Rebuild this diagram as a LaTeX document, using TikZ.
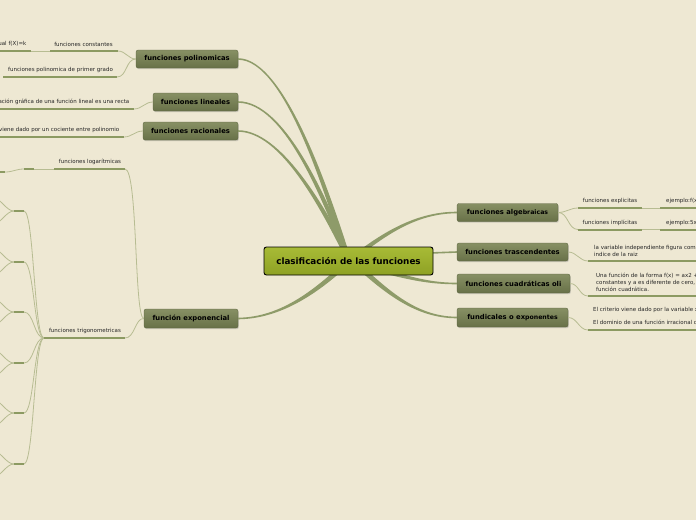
\documentclass[tikz,border=0pt]{standalone}
\usepackage{fontspec}
\setmainfont{DejaVu Sans}
\usetikzlibrary{calc,shadows}
\definecolor{bg}{HTML}{EEE8D3}
\definecolor{mlinecol}{HTML}{8E9B69}
\definecolor{ulcol}{HTML}{8C9A62}
\definecolor{tlcol}{HTML}{B7BC92}
\definecolor{ttop}{HTML}{879064}
\definecolor{tbot}{HTML}{687148}
\definecolor{ctop}{HTML}{A8BB36}
\definecolor{cbot}{HTML}{8EA124}
\definecolor{stxt}{HTML}{262626}
\tikzset{
 topic/.style={rounded corners=2pt, top color=ttop, bottom color=tbot, draw=tbot!85!black, line width=0.3pt,
   font=\fontsize{6.8}{7.5}\selectfont\bfseries, text=black, inner sep=0pt,
   drop shadow={shadow xshift=0.8pt,shadow yshift=-1.2pt,opacity=0.3}},
 central/.style={rounded corners=2.5pt, top color=ctop, bottom color=cbot, draw=black, line width=0.9pt,
   font=\fontsize{8.8}{9}\selectfont\bfseries, text=black, inner sep=0pt},
 stext/.style={font=\fontsize{5.5}{7}\selectfont, text=stxt, inner sep=0pt, align=left},
 uline/.style={draw=ulcol, line width=2pt},
 tline/.style={draw=tlcol, line width=0.8pt},
 mfill/.style={fill=mlinecol},
}
% tapered main connector: #1 node anchor, #2 #3 controls, #4 hub, (#5,#6) half width at hub
\newcommand\mlink[6]{%
 \fill[mfill] ($(#1)+(0,-0.8)$) .. controls ($(#2)+(0,-0.8)$) and ($(#3)+(#5,#6)$) .. ($(#4)+(#5,#6)$)
   -- ($(#4)-(#5,#6)$) .. controls ($(#3)-(#5,#6)$) and ($(#2)+(0,0.8)$) .. ($(#1)+(0,0.8)$) -- cycle;}
\begin{document}
\begin{tikzpicture}[x=1pt,y=-1pt]
\useasboundingbox (0,0) rectangle (696,520);
\fill[bg] (0,0) rectangle (696,520);
\clip (0,0) rectangle (696,520);

% ---------- hubs ----------
\coordinate (hubA) at (348,258);
\coordinate (hubB) at (348,262);
\coordinate (hubC) at (360,265);
\coordinate (hubD) at (355,263);

% ---------- topic nodes ----------
\path node[topic, minimum width=102pt, minimum height=18pt] (poly) at (187,59) {funciones polinomicas};
\path node[topic, minimum width=85pt, minimum height=18pt] (lin) at (195.5,102) {funciones lineales};
\path node[topic, minimum width=95pt, minimum height=18pt] (rac) at (190.5,131) {funciones racionales};
\path node[topic, minimum width=94pt, minimum height=19pt] (expo) at (191,318.5) {función exponencial};
\path node[topic, minimum width=101pt, minimum height=18pt] (alg) at (507.5,212.5) {funciones alge{\fontsize{6.2}{7}\selectfont\raisebox{-0.4pt}{braicas}}};
\path node[topic, minimum width=111pt, minimum height=18pt] (tras) at (512.5,252) {funciones trascendentes};
\path node[topic, minimum width=113pt, minimum height=19pt] (cuad) at (513.5,283.5) {funciones cuadráticas oli};
\path node[topic, minimum width=111pt, minimum height=19pt] (rad) at (512.5,317.5) {fundicales o ex{\fontsize{6.2}{7}\selectfont\raisebox{-0.4pt}{ponentes}}};

% ---------- main connectors ----------
\mlink{poly.east}{285,59}{328,195}{hubA}{2.4}{-0.7}
\mlink{lin.east}{285,102}{325,200}{hubA}{2.4}{-0.7}
\mlink{rac.east}{280,131}{322,205}{hubA}{2.4}{-0.7}
\mlink{expo.east}{282,318}{318,290}{hubB}{-1.8}{-1.8}
\mlink{alg.west}{415,212.5}{382,235}{hubB}{-1.6}{-1.6}
\mlink{cuad.west}{420,283.5}{398,274}{hubC}{0.9}{-2.3}
\mlink{rad.west}{415,317.5}{385,290}{hubD}{1.6}{-1.9}
\draw[draw=mlinecol, line width=1.6pt] (hubB) -- (430,253) -- (tras.west);

% ---------- central node ----------
\node[central, minimum width=169pt, minimum height=28pt] (cent) at (348.5,261) {clasificación de las funciones};

% ---------- left side: polinomicas ----------
\coordinate (constL) at (50,51);  \coordinate (constR) at (118,51);
\coordinate (kL) at (-2,51);      \coordinate (kR) at (31,51);
\coordinate (primL) at (3,77);    \coordinate (primR) at (117,77);
\node[stext] (constT) at (83.5,44) {funciones constantes};
\node[stext, anchor=east] (kT) at (26.5,44) {función constante es igual f(X)=k};
\node[stext] (primT) at (60.5,69.5) {funciones polinomica de primer grado};
\draw[tline] (poly.west) to[out=180,in=0] (constR);
\draw[tline] (poly.west) to[out=180,in=0] (primR);
\draw[tline] (constL) -- (kR);
\draw[uline] (constL) -- (constR);
\draw[uline] (kL) -- (kR);
\draw[uline] (primL) -- (primR);

% lineales
\coordinate (linCL) at (-2,109); \coordinate (linCR) at (134,109);
\node[stext, anchor=east] (linT) at (129.5,101.5) {La representación gráfica de una función lineal es una recta};
\draw[tline] (lin.west) to[out=180,in=0] (linCR);
\draw[uline] (linCL) -- (linCR);

% racionales
\coordinate (racCL) at (-2,137); \coordinate (racCR) at (124,137);
\node[stext, anchor=east] (racT) at (119.5,130) {El criterio viene dado por un cociente entre polinomio};
\draw[tline] (rac.west) to[out=180,in=0] (racCR);
\draw[uline] (racCL) -- (racCR);

% exponencial: logaritmicas
\coordinate (logL) at (54,169); \coordinate (logR) at (125,169);
\coordinate (lg2L) at (24,169); \coordinate (lg2R) at (34,169);
\coordinate (lg3L) at (-3,172); \coordinate (lg3R) at (5,172);
\node[stext] (logT) at (90,162) {funciones logarítmicas};
\draw[tline] (expo.west) .. controls (134,318) and (138,169) .. (logR);
\draw[tline] (logL) -- (lg2R);
\draw[tline] (lg2L) to[out=180,in=0,distance=8pt] (lg3R);
\draw[uline] (logL) -- (logR);
\draw[uline] (lg2L) -- (lg2R);
\draw[uline] (lg3L) -- (lg3R);

% exponencial: trigonometricas
\coordinate (trigL) at (44,338); \coordinate (trigR) at (125,338);
\node[stext] (trigT) at (85,330.5) {funciones trigonometricas};
\draw[tline] (expo.west) .. controls (135,318) and (135,338) .. (trigR);
\foreach \i/\yy in {1/211,2/262,3/312,4/363,5/413,6/464}{
  \coordinate (tR\i) at (24,\yy);
  \coordinate (tL\i) at (14,\yy);
  \coordinate (tU\i) at (-7,\yy-13);
  \coordinate (tD\i) at (-7,\yy+13);
  \draw[tline] (trigL) to[out=180,in=0,distance=10pt] (tR\i);
  \draw[tline] (tL\i) to[out=180,in=0,distance=8pt] (tU\i);
  \draw[tline] (tL\i) to[out=180,in=0,distance=8pt] (tD\i);
  \draw[uline] (tL\i) -- (tR\i);
}
\draw[uline] (trigL) -- (trigR);

% ---------- right side ----------
% algebraicas
\coordinate (explL) at (578,208); \coordinate (explR) at (642,208);
\coordinate (ex1L) at (660,208);  \coordinate (ex1R) at (700,208);
\coordinate (implL) at (578,229.5); \coordinate (implR) at (642,229.5);
\coordinate (ex2L) at (660,229.5);  \coordinate (ex2R) at (700,229.5);
\node[stext] (explT) at (610,201) {funciones explicitas};
\node[stext] (implT) at (610,222.5) {funciones implícitas};
\node[stext, anchor=west] (ex1T) at (666,201) {ejemplo:f(x)=2x+1};
\node[stext, anchor=west] (ex2T) at (666,222.5) {ejemplo:5x+2y=0};
\draw[tline] (alg.east) to[out=0,in=180] (explL);
\draw[tline] (alg.east) to[out=0,in=180] (implL);
\draw[tline] (explR) -- (ex1L);
\draw[tline] (implR) -- (ex2L);
\draw[uline] (explL) -- (explR);
\draw[uline] (implL) -- (implR);
\draw[uline] (ex1L) -- (ex1R);
\draw[uline] (ex2L) -- (ex2R);

% trascendentes
\coordinate (trL) at (588,261); \coordinate (trR) at (700,261);
\node[stext, anchor=west] (trT) at (594,251) {la variable independiente figura como exponente, o como\\indice de la raiz};
\draw[tline] (tras.east) to[out=0,in=180] (trL);
\draw[uline] (trL) -- (trR);

% cuadraticas
\coordinate (cuL) at (588,296); \coordinate (cuR) at (700,296);
\node[stext, anchor=west] (cuT) at (596,282.5) {Una función de la forma f(x) = ax2 + bx + c, donde a, b y c son\\constantes y a es diferente de cero, se conoce como una\\función cuadrática.};
\draw[tline] (cuad.east) to[out=0,in=180] (cuL);
\draw[uline] (cuL) -- (cuR);

% radicales
\coordinate (raL) at (588,330); \coordinate (raR) at (700,330);
\node[stext, anchor=west] (raT1) at (593,310) {El criterio viene dado por la variable x bajo el signo radical};
\node[stext, anchor=west] (raT2) at (593,323) {El dominio de una función irracional depende del índice};
\draw[tline] (rad.east) to[out=0,in=180] (raL);
\draw[uline] (raL) -- (raR);
\end{tikzpicture}
\end{document}
